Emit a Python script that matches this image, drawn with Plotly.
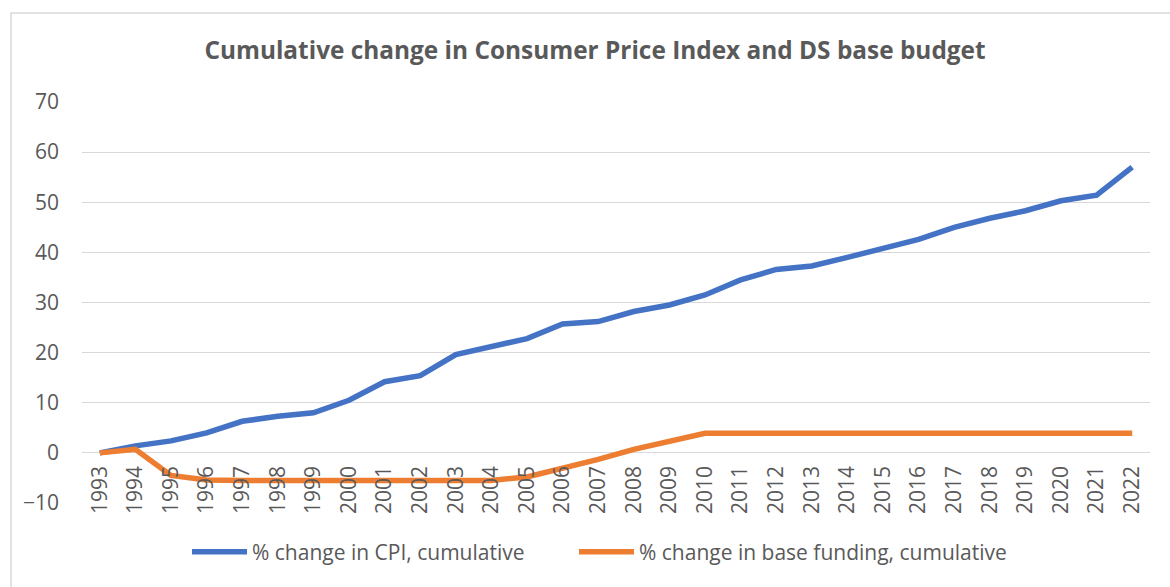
import plotly.graph_objects as go

years = [str(y) for y in range(1993, 2023)]
cpi_cumulative = [0, 1.4, 2.4, 4.0, 6.3, 7.3, 8.0, 10.5, 14.2, 15.4,
                  19.6, 21.2, 22.8, 25.7, 26.2, 28.2, 29.5, 31.5, 34.5, 36.6,
                  37.3, 39.0, 40.8, 42.6, 45.0, 46.8, 48.3, 50.3, 51.4, 57.0]
base_funding_cumulative = [0, 0.7, -4.5, -5.4, -5.5, -5.5, -5.5, -5.5, -5.5, -5.5,
                           -5.5, -5.5, -4.8, -3.1, -1.3, 0.7, 2.3, 3.9, 3.9, 3.9,
                           3.9, 3.9, 3.9, 3.9, 3.9, 3.9, 3.9, 3.9, 3.9, 3.9]
series_names = ["% change in CPI, cumulative", "% change in base funding, cumulative"]
title_text = "Cumulative change in Consumer Price Index and DS base budget"

W, H = 1170, 587
L, R, T, B = 82, 20, 102, 84
pw, ph = W - L - R, H - T - B

def px_x(x):
    return (x - L) / pw

def px_y(y):
    return (H - B - y) / ph

gray = "#595959"
font_family = "Open Sans, Liberation Sans, sans-serif"

fig = go.Figure()
fig.add_trace(go.Scatter(x=years, y=cpi_cumulative, mode="lines", name=series_names[0],
                         line=dict(color="#4472C4", width=5.5), legend="legend"))
fig.add_trace(go.Scatter(x=years, y=base_funding_cumulative, mode="lines", name=series_names[1],
                         line=dict(color="#ED7D31", width=5.5), legend="legend2"))

legend_common = dict(orientation="h", yanchor="middle", y=px_y(552), xanchor="left",
                     font=dict(family=font_family, size=21, color=gray), itemwidth=55,
                     bgcolor="rgba(0,0,0,0)", borderwidth=0)

fig.update_layout(
    width=W, height=H,
    margin=dict(l=L, r=R, t=T, b=B, pad=0, autoexpand=False),
    paper_bgcolor="white", plot_bgcolor="white",
    title=dict(text=title_text, x=595 / W, xanchor="center", y=1 - 50 / H, yanchor="middle",
               font=dict(family=font_family, size=24.4, color=gray, weight="bold")),
    showlegend=True,
    legend=dict(legend_common, x=px_x(187)),
    legend2=dict(legend_common, x=px_x(574)),
    xaxis=dict(type="category", range=[-0.5, 29.5], showgrid=False, zeroline=False,
               showline=False, tickangle=-90, anchor="free", position=10 / 80,
               tickfont=dict(family=font_family, size=21, color=gray),
               ticks="", ticklabelstandoff=8),
    yaxis=dict(range=[-10, 70], dtick=10, showgrid=True, gridcolor="#D9D9D9", gridwidth=1,
               zeroline=False, showline=False, ticks="",
               tickfont=dict(family=font_family, size=21, color=gray), ticklabelstandoff=22),
    shapes=[dict(type="rect", xref="paper", yref="paper",
                 x0=px_x(11), x1=px_x(1180), y0=px_y(600), y1=px_y(13),
                 line=dict(color="#D9D9D9", width=1.5), fillcolor="rgba(0,0,0,0)", layer="below")],
)

fig.write_html("out.html", config={"displayModeBar": False},
               post_script="document.body.style.margin='0px';")
